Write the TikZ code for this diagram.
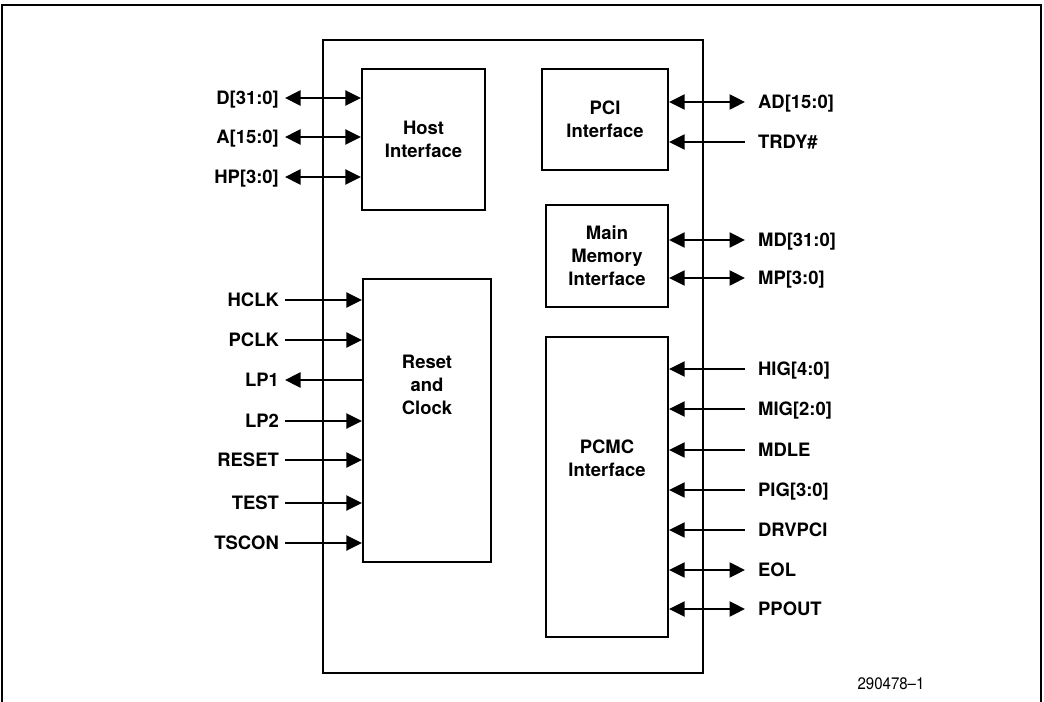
\documentclass[tikz,border=0pt]{standalone}
\usepackage{fontspec}
\setmainfont{TeX Gyre Heros}
\usetikzlibrary{arrows.meta}

\begin{document}
\begin{tikzpicture}[x=0.02cm, y=-0.02cm, line width=1.3pt,
		font=\fontsize{10.5}{13}\selectfont\bfseries,
		>={Triangle[length=0.31cm, width=0.3cm]},
		blk/.style={draw, inner sep=0pt},
		pinl/.style={anchor=east, inner sep=0pt, inner xsep=0.1cm, text height=7.4pt, text depth=0pt},
		pinr/.style={anchor=west, inner sep=0pt, inner xsep=0.24cm, text height=7.4pt, text depth=0pt}]
		\useasboundingbox (0,0) rectangle (1044,702);

		% Frame
		\draw (2,702) -- (2,5) -- (1041,5) -- (1041,702);

		% Chip and its blocks
		\node[blk, minimum width=7.6cm, minimum height=12.66cm] (chip) at (513,356.5) {};
		\node[blk, minimum width=2.46cm, minimum height=2.82cm, align=center] (host) at (423.5,139.5) {Host\\Interface};
		\node[blk, minimum width=2.52cm, minimum height=2.02cm, align=center] (pci) at (605,119.5) {PCI\\Interface};
		\node[blk, minimum width=2.44cm, minimum height=2.04cm, align=center] (mem) at (607,256) {Main\\Memory\\Interface};
		\node[blk, minimum width=2.56cm, minimum height=5.66cm] (rst) at (427,420.5) {};
		\node[blk, minimum width=2.44cm, minimum height=6cm] (pcmc) at (607,487) {};
		\node[align=center] (rsttxt) at (427,385) {Reset\\and\\Clock};
		\node[align=center] (pcmctxt) at (607,458) {PCMC\\Interface};

		% Host pins
		\foreach \y/\t/\n in {98/{D[31:0]}/d, 137/{A[15:0]}/a, 177/{HP[3:0]}/hp}{
			\node[pinl] (\n) at (285,\y) {\t};
			\draw[<->] (\n.east) -- (host.west |- \n.east);
		}

		% Reset and clock pins
		\foreach \y/\t/\n in {300/HCLK/hclk, 340/PCLK/pclk, 421/LP2/lptwo, 460/RESET/reset, 503/TEST/test, 543/TSCON/tscon}{
			\node[pinl] (\n) at (285,\y) {\t};
			\draw[->] (\n.east) -- (rst.west |- \n.east);
		}
		\node[pinl] (lpone) at (285,380) {LP1};
		\draw[<-] (lpone.east) -- (rst.west |- lpone.east);

		% PCI pins
		\node[pinr] (ad) at (745,102) {AD[15:0]};
		\draw[<->] (pci.east |- ad.west) -- (ad.west);
		\node[pinr] (trdy) at (745,142) {TRDY\#};
		\draw[<-] (pci.east |- trdy.west) -- (trdy.west);

		% Memory pins
		\node[pinr] (md) at (745,240) {MD[31:0]};
		\draw[<->] (mem.east |- md.west) -- (md.west);
		\node[pinr] (mp) at (745,278) {MP[3:0]};
		\draw[<->] (mem.east |- mp.west) -- (mp.west);

		% PCMC pins
		\foreach \y/\t/\n in {369/{HIG[4:0]}/hig, 409/{MIG[2:0]}/mig, 450/MDLE/mdle, 490/{PIG[3:0]}/pig, 530/DRVPCI/drvpci}{
			\node[pinr] (\n) at (745,\y) {\t};
			\draw[<-] (pcmc.east |- \n.west) -- (\n.west);
		}
		\foreach \y/\t/\n in {570/EOL/eol, 609/PPOUT/ppout}{
			\node[pinr] (\n) at (745,\y) {\t};
			\draw[<->] (pcmc.east |- \n.west) -- (\n.west);
		}

		% Figure number
		\node[font=\fontsize{9.5}{11}\selectfont, xscale=0.9] (fignum) at (891,684) {290478--1};
	\end{tikzpicture}
\end{document}
